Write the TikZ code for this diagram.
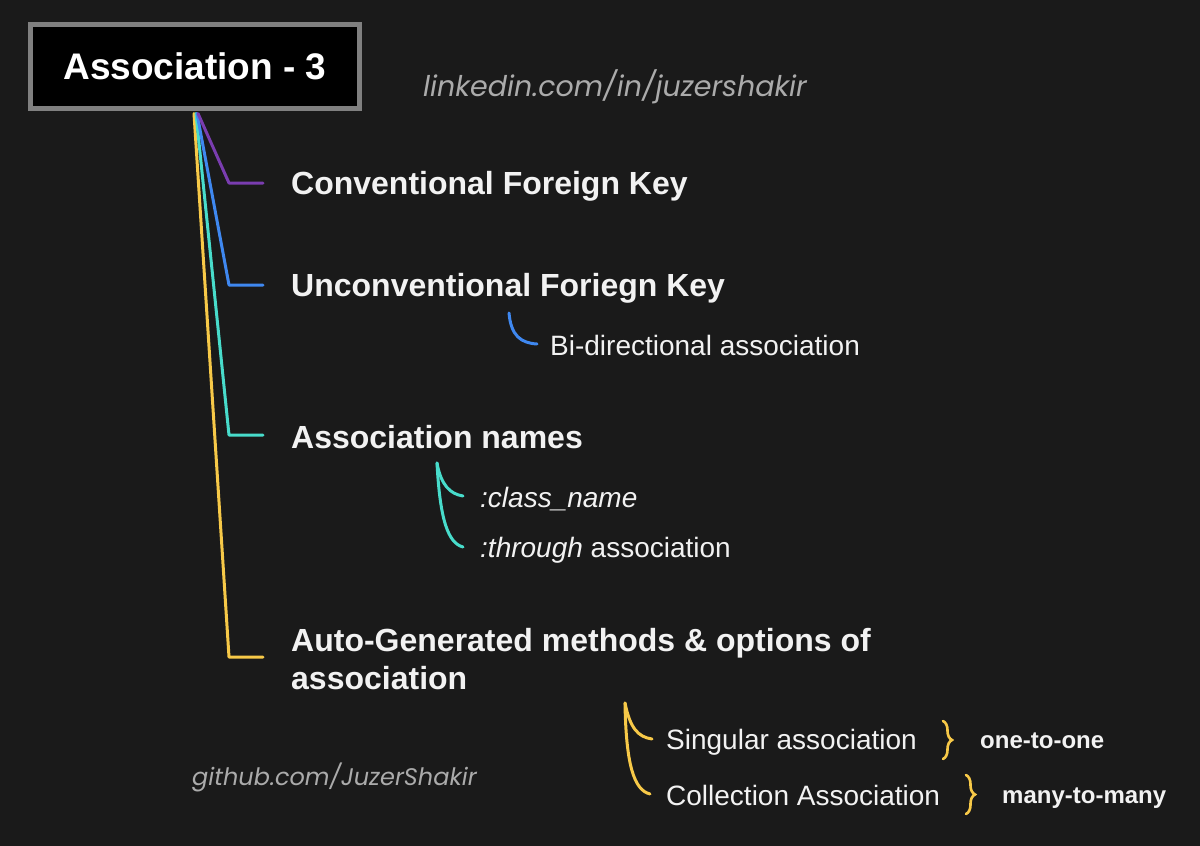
\documentclass[tikz,border=0pt]{standalone}
\usepackage{fontspec}
\setmainfont{Liberation Sans}
\newfontfamily\wmfont{Poppins}
\usetikzlibrary{decorations.pathreplacing}
\definecolor{bgc}{HTML}{1A1A1A}
\definecolor{boxgray}{HTML}{808080}
\definecolor{cpurple}{HTML}{7A3DB0}
\definecolor{cblue}{HTML}{3F88F0}
\definecolor{cteal}{HTML}{48DCCB}
\definecolor{cyellow}{HTML}{F7C948}
\definecolor{txt}{HTML}{F2F2F2}
\definecolor{wm}{HTML}{ABABAB}
\tikzset{
  head/.style={anchor=base west, inner sep=0pt, text=txt, font=\fontsize{32}{38}\selectfont\bfseries},
  sub/.style={anchor=base west, inner sep=0pt, text=txt, font=\fontsize{28}{34}\selectfont},
  tag/.style={anchor=base west, inner sep=0pt, text=txt, font=\fontsize{24}{28}\selectfont\bfseries},
  wmark/.style={anchor=base west, inner sep=0pt, text=wm, font=\wmfont\itshape\fontsize{25}{30}\selectfont},
  branch/.style={line width=3pt, line join=round, line cap=round},
  hook/.style={line width=3pt, line cap=round},
  curly/.style={line width=2.6pt, cyellow, line cap=round, decorate, decoration={brace, amplitude=9pt}}
}
\begin{document}
\begin{tikzpicture}[x=1pt, y=-1pt]
\fill[bgc] (0,0) rectangle (1200,846);
\useasboundingbox (0,0) rectangle (1200,846);

% title box
\node[draw=boxgray, line width=5pt, fill=black, minimum width=329pt, minimum height=84pt,
      inner sep=0pt, text=white, font=\fontsize{37}{44}\selectfont\bfseries] (title) at (195,66.5) {Association - 3};

% watermarks
\node[wmark, font=\wmfont\itshape\fontsize{28.5}{34}\selectfont] (lnk) at (423,96) {linkedin.com/in/juzershakir};
\node[wmark, font=\wmfont\itshape\fontsize{24}{29}\selectfont] (gh) at (192,785) {github.com/JuzerShakir};

% headings
\node[head] (cfk) at (291,194) {Conventional Foreign Key};
\node[head] (ufk) at (291,296) {Unconventional Foriegn Key};
\node[head] (an) at (291,448) {Association names};
\node[head] (agm) at (291,651) {Auto-Generated methods \& options of};
\node[head] (agm2) at (291,689) {association};

% sub items
\node[sub] (bi) at (550,355) {Bi-directional association};
\node[sub] (cn) at (480,507) {\itshape :class\_name};
\node[sub] (th) at (480,557) {\textit{:through} association};
\node[sub] (sa) at (666,749) {Singular association};
\node[sub] (ca) at (666,805) {Collection Association};
\node[tag] (oo) at (980,748) {one-to-one};
\node[tag] (mm) at (1002,803) {many-to-many};

% branch coordinates
\coordinate (k1) at (229,183); \coordinate (e1) at (263,183);
\coordinate (k2) at (229,285); \coordinate (e2) at (263,285);
\coordinate (k3) at (229,435); \coordinate (e3) at (263,435);
\coordinate (k4) at (229,657); \coordinate (e4) at (263,657);

\draw[branch, cyellow] ([xshift=-1pt,yshift=-2.5pt]title.south) -- (k4) -- (e4);
\draw[branch, cteal] ([xshift=1pt,yshift=-2.5pt]title.south) -- (k3) -- (e3);
\draw[branch, cblue] ([xshift=2pt,yshift=-2.5pt]title.south) -- (k2) -- (e2);
\draw[branch, cpurple] ([xshift=3pt,yshift=-2.5pt]title.south) -- (k1) -- (e1);

% hooks
\coordinate (b0) at (509,313); \coordinate (b1) at (537,344);
\draw[hook, cblue] (b0) .. controls (511,336) and (521,343) .. (b1);

\coordinate (t0) at (437,463); \coordinate (t1) at (463,496); \coordinate (t2) at (463,547);
\draw[hook, cteal] (t0) .. controls (441,485) and (450,494) .. (t1);
\draw[hook, cteal] (t0) .. controls (440,520) and (448,543) .. (t2);

\coordinate (y0) at (625,703); \coordinate (y1) at (652,739); \coordinate (y2) at (650,794);
\draw[hook, cyellow] (y0) .. controls (630,728) and (638,737) .. (y1);
\draw[hook, cyellow] (y0) .. controls (626,765) and (634,790) .. (y2);

% braces
\coordinate (br1a) at (943,721); \coordinate (br1b) at (943,759);
\coordinate (br2a) at (966,775); \coordinate (br2b) at (966,814);
\draw[curly] (br1a) -- (br1b);
\draw[curly] (br2a) -- (br2b);
\end{tikzpicture}
\end{document}
